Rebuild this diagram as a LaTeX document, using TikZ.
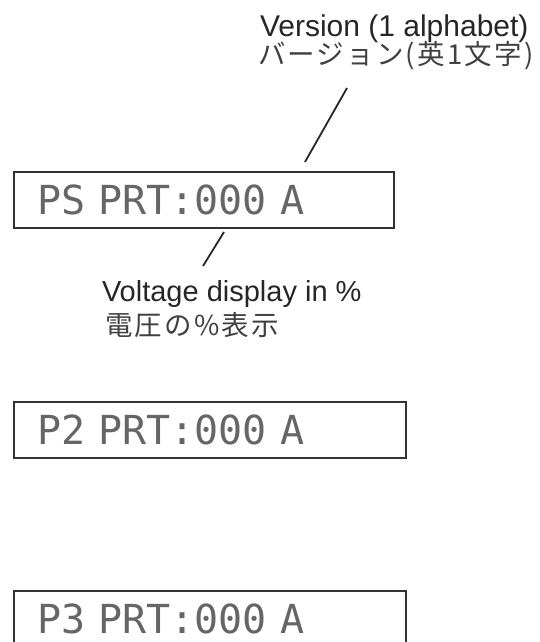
\documentclass[tikz,border=0pt]{standalone}
\usepackage{fontspec}
\setmainfont{Liberation Sans}
\newfontfamily\jpfont[LetterSpace=8]{Noto Sans CJK JP}
\newfontfamily\lcdfont{DejaVu Sans Mono}
\usetikzlibrary{positioning}

\begin{document}
\begin{tikzpicture}[x=1pt,y=1pt,every node/.style={inner sep=0pt,outer sep=0pt},
  lcd/.style={draw=black!80,line width=1.6pt,minimum height=56pt,inner xsep=23pt,align=left,
    text=black!60,font=\lcdfont\fontsize{40pt}{44pt}\selectfont},
  en/.style={anchor=base west,text=black!85,font=\fontsize{29pt}{34pt}\selectfont},
  jp/.style={anchor=base west,text=black!75,font=\jpfont\fontsize{27.5pt}{32pt}\selectfont},
  leader/.style={line width=1.8pt,black!85}]
\useasboundingbox (0,0) rectangle (539,642);
\node[lcd,text width=334pt] (lcdA) at (204,442) {PS PRT:000 A};
\node[lcd,text width=346pt] (lcdB) at (210,212) {P2 PRT:000 A};
\node[lcd,text width=346pt] (lcdC) at (210,23) {P3 PRT:000 A};
\node[en,font=\fontsize{30pt}{34pt}\selectfont] (verEn) at (260,605) {Version (1 alphabet)};
\node[jp] (verJp) at (258,577) {バージョン(英1文字)};
\node[en] (voltEn) at (102,340) {Voltage display in \%};
\node[jp] (voltJp) at (105,306) {電圧の\%表示};
\coordinate (verTop) at (347,554); \coordinate (verBot) at (305,480);
\coordinate (voltTop) at (224,410); \coordinate (voltBot) at (203,376);
\draw[leader] (verTop)--(verBot);
\draw[leader] (voltTop)--(voltBot);
\end{tikzpicture}
\end{document}
